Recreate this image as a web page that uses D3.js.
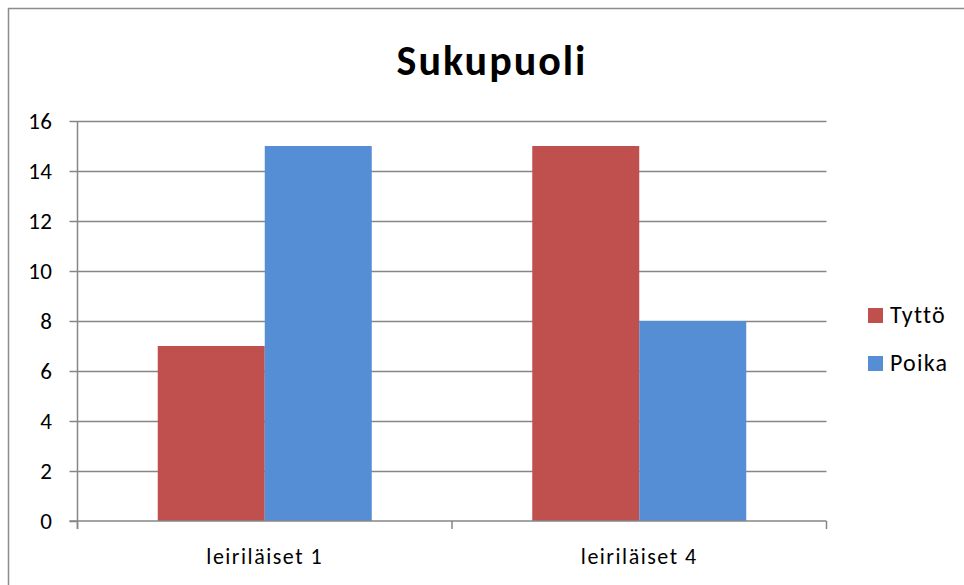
<!DOCTYPE html>
<html lang="fi">
<head>
<meta charset="utf-8">
<title>Sukupuoli</title>
<script src="https://d3js.org/d3.v7.min.js"></script>
<style>
  body { margin: 0; background: #fff; }
  text { font-family: Carlito, Calibri, Lato, "Liberation Sans", sans-serif; fill: #000; }
</style>
</head>
<body>
<svg id="chart" width="964" height="585"></svg>
<script>
// data
const categories = ["leiriläiset 1", "leiriläiset 4"];
const series = ["Tyttö", "Poika"];
const tytto = [7, 15];
const poika = [15, 8];
const yTicks = [0, 2, 4, 6, 8, 10, 12, 14, 16];

const colors = { "Tyttö": "#C0504D", "Poika": "#558ED5" };
const values = { "Tyttö": tytto, "Poika": poika };

const svg = d3.select("#chart");
const plot = { left: 77.5, right: 826.5, top: 121, bottom: 521 };

// outer frame of the chart area
svg.append("rect")
  .attr("x", 8.5).attr("y", 8.5)
  .attr("width", 1000).attr("height", 1000)
  .attr("fill", "none")
  .attr("stroke", "#8c8c8c")
  .attr("stroke-width", 1.5);

svg.append("text")
  .attr("x", 492).attr("y", 75)
  .attr("text-anchor", "middle")
  .style("font-size", "42px")
  .style("font-weight", "bold")
  .style("letter-spacing", "2px")
  .text("Sukupuoli");

const y = d3.scaleLinear().domain([0, 16]).range([plot.bottom, plot.top]);
const x0 = d3.scaleBand().domain(categories).range([plot.left, plot.right]);
// excel style gap width 150%
const bw = x0.bandwidth();
const gap = bw * 1.5 / 3.5;
const x1 = d3.scaleBand().domain(series).range([gap / 2, bw - gap / 2]);

// gridlines
svg.append("g")
  .selectAll("line")
  .data(yTicks.filter(d => d > 0))
  .join("line")
  .attr("x1", plot.left).attr("x2", plot.right)
  .attr("y1", d => Math.round(y(d)) + 0.5).attr("y2", d => Math.round(y(d)) + 0.5)
  .attr("stroke", "#868686").attr("stroke-width", 1.5);

// bars
const groups = svg.append("g")
  .selectAll("g")
  .data(categories)
  .join("g")
  .attr("transform", d => `translate(${x0(d)},0)`);

groups.selectAll("rect")
  .data((c, i) => series.map(s => ({ s: s, v: values[s][i] })))
  .join("rect")
  .attr("x", d => x1(d.s))
  .attr("width", x1.bandwidth())
  .attr("y", d => y(d.v))
  .attr("height", d => y(0) - y(d.v))
  .attr("fill", d => colors[d.s]);

// y axis
const yAxis = d3.axisLeft(y).tickValues(yTicks).tickSize(8).tickPadding(17);
const gy = svg.append("g")
  .attr("transform", `translate(${plot.left},0)`)
  .call(yAxis);
gy.select(".domain").attr("stroke", "#868686").attr("stroke-width", 1.5)
  .attr("d", `M0,${plot.top}V${plot.bottom + 8}`);
gy.selectAll(".tick line").attr("stroke", "#868686").attr("stroke-width", 1.5);
gy.selectAll(".tick text")
  .style("font-size", "23px")
  .style("letter-spacing", "0.5px")
  .style("font-family", "Carlito, Calibri, Lato, 'Liberation Sans', sans-serif")
  .attr("fill", "#000");

// x axis
const gx = svg.append("g").attr("transform", `translate(0,${plot.bottom})`);
gx.append("line")
  .attr("x1", plot.left - 8).attr("x2", plot.right)
  .attr("y1", 0).attr("y2", 0)
  .attr("stroke", "#868686").attr("stroke-width", 1.5);
gx.selectAll(".cat-tick")
  .data(categories.map(c => x0(c) + bw).concat([plot.left]))
  .join("line")
  .attr("x1", d => d).attr("x2", d => d)
  .attr("y1", 0).attr("y2", 8)
  .attr("stroke", "#868686").attr("stroke-width", 1.5);
gx.selectAll("text")
  .data(categories)
  .join("text")
  .attr("x", d => x0(d) + bw / 2)
  .attr("y", 43)
  .attr("text-anchor", "middle")
  .style("font-size", "22px")
  .style("letter-spacing", "1.5px")
  .text(d => d);

// legend
const legend = svg.append("g")
  .selectAll("g")
  .data(series)
  .join("g")
  .attr("transform", (d, i) => `translate(868,${308 + i * 48})`);
legend.append("rect")
  .attr("width", 15).attr("height", 15)
  .attr("fill", d => colors[d]);
legend.append("text")
  .attr("x", 22).attr("y", 15)
  .style("font-size", "24px")
  .style("letter-spacing", "1.2px")
  .text(d => d);
</script>
</body>
</html>
